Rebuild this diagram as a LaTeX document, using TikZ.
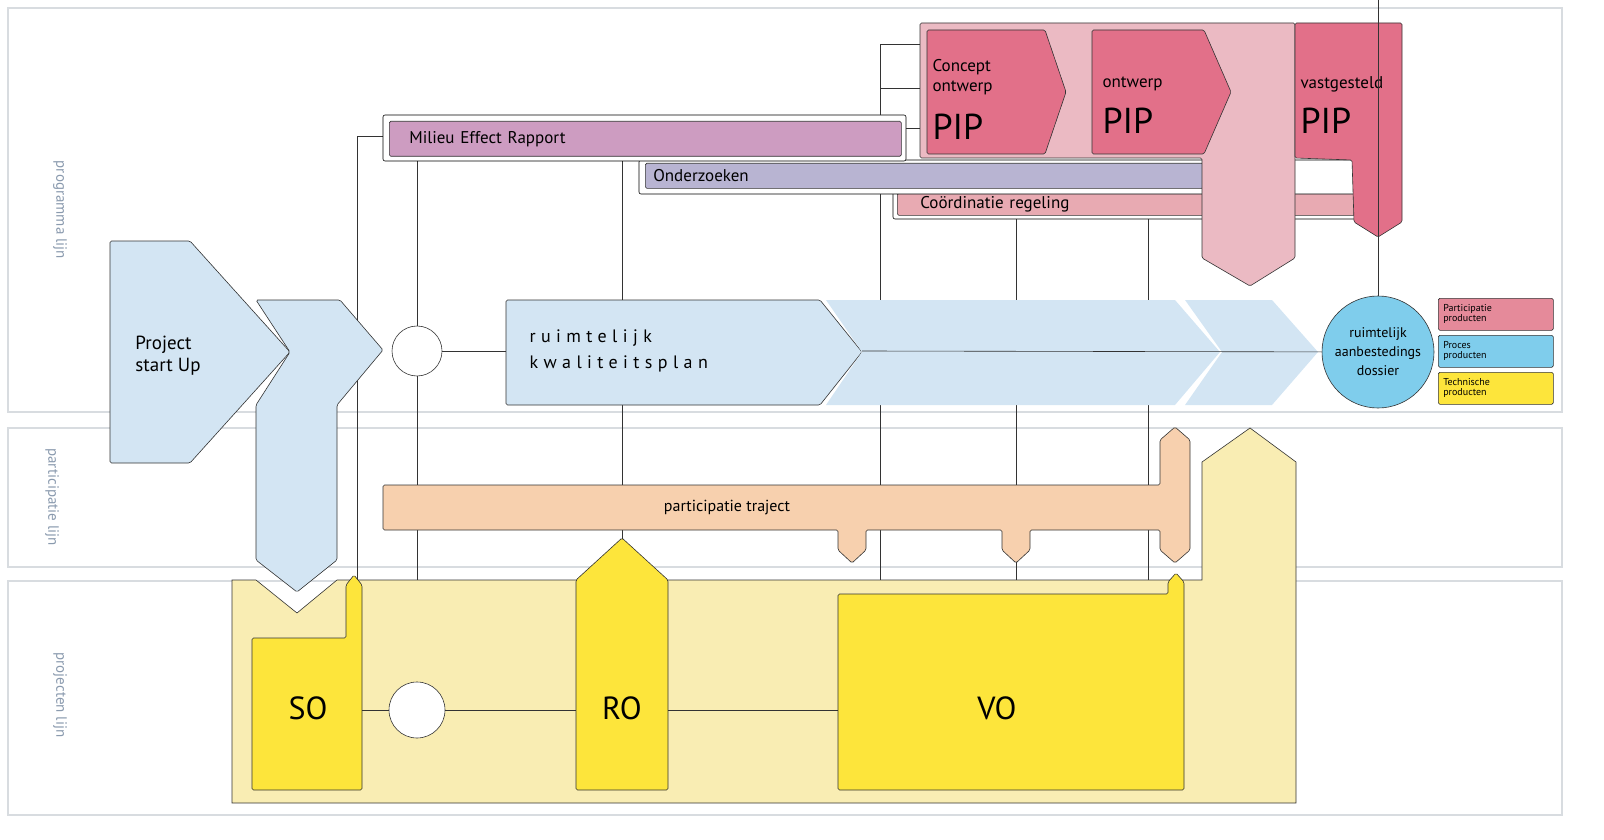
\documentclass[tikz,border=0pt]{standalone}
\usepackage{fontspec}
\setmainfont{PT Sans}
\newfontfamily\spacedfont[LetterSpace=30]{PT Sans}
\definecolor{procblue}{HTML}{D3E5F3}
\definecolor{dossblue}{HTML}{7FCDEC}
\definecolor{techyellow}{HTML}{FDE53B}
\definecolor{paleyellow}{HTML}{F9EDB3}
\definecolor{pipred}{HTML}{E27089}
\definecolor{palepink}{HTML}{EBBAC3}
\definecolor{legpink}{HTML}{E58A9A}
\definecolor{merpurple}{HTML}{CD9CC1}
\definecolor{ondlilac}{HTML}{B8B4D2}
\definecolor{coordpink}{HTML}{E8AAB2}
\definecolor{partorange}{HTML}{F7D0AE}
\definecolor{lanegray}{HTML}{D8DCE0}
\definecolor{labelgray}{HTML}{8A9AAE}
\tikzset{
  lane/.style={draw=lanegray,line width=1.5pt},
  lanelabel/.style={rotate=-90,text=labelgray,font=\fontsize{15}{15}\selectfont},
  blk/.style={draw=black!80,line width=0.6pt,rounded corners=1.5pt},
  link/.style={draw=black!80,line width=0.6pt},
  bar/.style={blk,inner sep=0pt},
  legend/.style={blk,minimum width=115pt,minimum height=32pt,text width=105pt,
    font=\fontsize{10}{10}\selectfont,align=left,inner sep=3pt}
}
\begin{document}
\begin{tikzpicture}[x=1pt,y=-1pt]
  \useasboundingbox (0,0) rectangle (1604,840);
  %
  % lanes
  \draw[lane] (8,8) rectangle (1562,412);
  \draw[lane] (8,428) rectangle (1562,567);
  \draw[lane] (8,581) rectangle (1562,815);
  \node[lanelabel] (lprog) at (60,210) {programma lijn};
  \node[lanelabel] (lpart) at (52,497) {participatie lijn};
  \node[lanelabel] (lproj) at (60,695) {projecten lijn};
  %
  % connector end points
  \coordinate (top)    at (1378,0);
  \coordinate (mleft)  at (383,136);
  \coordinate (sotop)  at (357,600);
  \foreach \n/\x in {a/417,b/622,c/880,d/1016,e/1148}
    \coordinate (v\n) at (\x,160);
  \coordinate (va2) at (417,690);
  \coordinate (vb2) at (622,560);
  \coordinate (vc2) at (880,594);
  \coordinate (vd2) at (1016,594);
  \coordinate (ve2) at (1148,594);
  \coordinate (pk1) at (880,44);
  \coordinate (pk2) at (880,88);
  \coordinate (pin1) at (922,44);
  \coordinate (pin2) at (922,88);
  \coordinate (pin3) at (922,128);
  \coordinate (mright) at (905,128);
  %
  % vertical links (behind the shapes)
  \foreach \n in {a,b,c,d,e}
    \draw[link] (v\n) -- (v\n2);
  \draw[link] (mleft) -| (sotop);
  \draw[link] (pin1) -- (pk1) -- (vc);
  \draw[link] (pin2) -- (pk2);
  \draw[link] (mright) -- (pin3);
  \draw[link] (top) -- (1378,300);
  %
  % project lane background
  \fill[paleyellow,draw=black!80,line width=0.6pt]
    (232,580) -- (256,580) -- (297,613) -- (337,580) -- (1202,580) -- (1202,462)
    -- (1250,428) -- (1296,462) -- (1296,803) -- (232,803) -- cycle;
  %
  % process products
  \filldraw[blk,fill=procblue] (110,241) -- (190,241) -- (290,352) -- (190,463)
    -- (110,463) -- cycle;
  \node[align=left,font=\fontsize{19}{22}\selectfont] (start) at (168,356)
    {Project\\start Up};
  \filldraw[blk,fill=procblue] (256,300) -- (340,300) -- (383,350) -- (337,405)
    -- (337,560) -- (297,592) -- (256,560) -- (256,405) -- (290,352) -- cycle;
  \filldraw[blk,fill=procblue] (506,300) -- (820,300) -- (862,352) -- (820,405)
    -- (506,405) -- cycle;
  \node[align=left,anchor=west,font=\spacedfont\fontsize{18}{26}\selectfont]
    (rkp) at (526,351) {ruimtelijk\\kwaliteitsplan};
  \fill[procblue] (826,300) -- (1175,300) -- (1220,352) -- (1175,405) -- (826,405)
    -- (862,352) -- cycle;
  \fill[procblue] (1185,300) -- (1272,300) -- (1318,352) -- (1272,405) -- (1185,405)
    -- (1222,352) -- cycle;
  \node[circle,blk,fill=white,minimum size=50pt] (hub) at (417,351) {};
  \node[circle,blk,fill=dossblue,minimum size=112pt,align=center,
    font=\fontsize{14}{19}\selectfont] (rad) at (1378,352)
    {ruimtelijk\\aanbestedings\\dossier};
  \coordinate (rkpin) at (506,351);
  \coordinate (chain) at (862,351);
  \draw[link] (hub) -- (rkpin);
  \draw[link] (chain) -- (rad);
  %
  % programme bars
  \draw[line width=0.6pt,rounded corners=2pt,fill=white] (893,190) rectangle (1358,219);
  \node[bar,fill=coordpink,minimum width=458pt,minimum height=22pt,anchor=north west,
    text width=440pt,align=left,font=\fontsize{17}{17}\selectfont] (coord) at (897,193)
    {\hspace*{14pt}Coördinatie regeling};
  \draw[line width=0.6pt,rounded corners=2pt,fill=white] (639,160) rectangle (1356,194);
  \node[bar,fill=ondlilac,minimum width=558pt,minimum height=25pt,anchor=north west,
    text width=550pt,align=left,font=\fontsize{17}{17}\selectfont] (ond) at (645,163)
    {\hspace*{4pt}Onderzoeken};
  \draw[line width=0.6pt,rounded corners=2pt,fill=white] (383,115) rectangle (906,161);
  \node[bar,fill=merpurple,minimum width=512pt,minimum height=35pt,anchor=north west,
    text width=500pt,align=left,font=\fontsize{17}{17}\selectfont] (mer) at (389,121)
    {\hspace*{14pt}Milieu Effect Rapport};
  %
  % plan products
  \filldraw[blk,fill=palepink] (920,23) -- (1295,23) -- (1295,258) -- (1250,286)
    -- (1202,258) -- (1202,158) -- (920,158) -- cycle;
  \filldraw[blk,fill=pipred] (927,30) -- (1045,30) -- (1066,92) -- (1045,154)
    -- (927,154) -- cycle;
  \node[align=left,anchor=north west,font=\fontsize{17}{20}\selectfont] (co) at (929,56)
    {Concept\\ontwerp};
  \node[anchor=west,font=\fontsize{36}{36}\selectfont] (pip1) at (929,127) {PIP};
  \filldraw[blk,fill=pipred] (1092,30) -- (1204,30) -- (1231,92) -- (1204,154)
    -- (1092,154) -- cycle;
  \node[anchor=west,font=\fontsize{17}{20}\selectfont] (ow) at (1099,84) {ontwerp};
  \node[anchor=west,font=\fontsize{36}{36}\selectfont] (pip2) at (1099,121) {PIP};
  \filldraw[blk,fill=pipred] (1295,23) -- (1402,23) -- (1402,222) -- (1378,237)
    -- (1354,222) -- (1352,160) -- (1295,158) -- cycle;
  \node[anchor=west,font=\fontsize{17}{20}\selectfont] (vg) at (1297,84) {vastgesteld};
  \node[anchor=west,font=\fontsize{36}{36}\selectfont] (pip3) at (1297,121) {PIP};
  \coordinate (vtip) at (1378,237);
  \draw[link] (top) -- (vtip);
  %
  % participation
  \filldraw[blk,fill=partorange] (383,485) -- (1160,485) -- (1160,440) -- (1175,427)
    -- (1190,440) -- (1190,550) -- (1175,563) -- (1160,550) -- (1160,530) -- (1030,530)
    -- (1030,550) -- (1016,563) -- (1002,550) -- (1002,530) -- (866,530) -- (866,550)
    -- (852,563) -- (838,550) -- (838,530) -- (383,530) -- cycle;
  \node[font=\fontsize{16}{16}\selectfont] (pt) at (727,508) {participatie traject};
  %
  % technical products
  \filldraw[blk,fill=techyellow] (252,638) -- (346,638) -- (346,585) -- (354,575)
    -- (362,585) -- (362,790) -- (252,790) -- cycle;
  \node[font=\fontsize{32}{32}\selectfont] (so) at (308,708) {SO};
  \filldraw[blk,fill=techyellow] (576,790) -- (576,580) -- (622,538) -- (668,580)
    -- (668,790) -- cycle;
  \node[font=\fontsize{32}{32}\selectfont] (ro) at (622,708) {RO};
  \filldraw[blk,fill=techyellow] (838,594) -- (1168,594) -- (1168,582) -- (1176,573)
    -- (1184,582) -- (1184,790) -- (838,790) -- cycle;
  \node[font=\fontsize{32}{32}\selectfont] (vo) at (997,708) {VO};
  \node[circle,blk,fill=white,minimum size=56pt] (hub2) at (417,710) {};
  \coordinate (soright) at (362,710);
  \coordinate (roleft) at (576,710);
  \coordinate (roright) at (668,710);
  \coordinate (voleft) at (838,710);
  \draw[link] (soright) -- (hub2) -- (roleft);
  \draw[link] (roright) -- (voleft);
  %
  % legend
  \node[legend,fill=legpink,anchor=north west] (lg1) at (1438,298)
    {Participatie\\producten};
  \node[legend,fill=dossblue,anchor=north west] (lg2) at (1438,335)
    {Proces\\producten};
  \node[legend,fill=techyellow,anchor=north west] (lg3) at (1438,372)
    {Technische\\producten};
\end{tikzpicture}
\end{document}
